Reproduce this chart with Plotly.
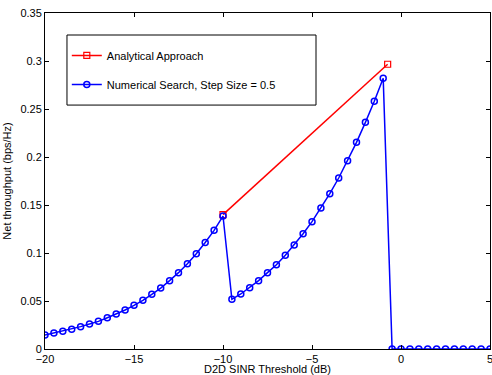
import plotly.graph_objects as go

# Numerical search, step size 0.5
x_num = [-20 + 0.5 * i for i in range(51)]
y_num = [0.0146, 0.0167, 0.0184, 0.0205, 0.0233, 0.0260, 0.0288, 0.0326, 0.0365, 0.0406,
         0.0455, 0.0507, 0.0570, 0.0635, 0.0712, 0.0795, 0.0889, 0.0993, 0.1110, 0.1236,
         0.1385,
         0.0517, 0.0573, 0.0639, 0.0712, 0.0795, 0.0878, 0.0976, 0.1083, 0.1201, 0.1326,
         0.1469, 0.1618, 0.1781, 0.1962, 0.2153, 0.2361, 0.2580, 0.2820,
         0, 0, 0, 0, 0, 0, 0, 0, 0, 0, 0, 0]

# Analytical approach
x_ana = [-10, -0.75]
y_ana = [0.140, 0.2966]

x_ticks = [-20, -15, -10, -5, 0, 5]
y_ticks = [0, 0.05, 0.1, 0.15, 0.2, 0.25, 0.3, 0.35]

FONT = "Liberation Sans, Arial, Helvetica, sans-serif"

fig = go.Figure()
fig.add_trace(go.Scatter(
    x=x_ana, y=y_ana, mode="lines+markers", name="Analytical Approach",
    line=dict(color="#ff0000", width=1.5),
    marker=dict(symbol="square-open", size=6, color="#ff0000", line=dict(width=1.2)),
    legendgroup="a"))
fig.add_trace(go.Scatter(
    x=x_num, y=y_num, mode="lines+markers",
    name="Numerical Search, Step Size = 0.5",
    line=dict(color="#0000ff", width=1.5),
    marker=dict(symbol="circle-open", size=6, color="#0000ff", line=dict(width=1.5)),
    legendgroup="b"))

axis_common = dict(
    showline=True, linecolor="black", linewidth=1, mirror="ticks",
    ticks="inside", ticklen=4, tickcolor="black", showgrid=False, zeroline=False,
    ticklabeloverflow="allow", automargin=False,
    tickfont=dict(family=FONT, size=11, color="black"),
)

fig.update_layout(
    width=492, height=375,
    margin=dict(l=45, r=2, t=13, b=26),
    paper_bgcolor="white", plot_bgcolor="white",
    font=dict(family=FONT, size=11, color="black"),
    showlegend=True,
    legend=dict(
        x=0.049, y=0.917, xanchor="left", yanchor="top",
        bgcolor="rgba(0,0,0,0)", borderwidth=0,
        font=dict(family=FONT, size=11, color="black"),
        traceorder="grouped", tracegroupgap=10, itemwidth=30,
    ),
    shapes=[dict(type="rect", xref="paper", yref="paper",
                 x0=0.0494, x1=0.609, y0=0.726, y1=0.9345,
                 line=dict(color="black", width=1), fillcolor="white", layer="below")],
    xaxis=dict(range=[-20, 5], tickvals=x_ticks,
               title=dict(text="D2D SINR Threshold (dB)", standoff=5,
                          font=dict(family=FONT, size=11, color="black")),
               **axis_common),
    yaxis=dict(range=[0, 0.35], tickvals=y_ticks,
               title=dict(text="Net throughput (bps/Hz)", standoff=6,
                          font=dict(family=FONT, size=11, color="black")),
               **axis_common),
)

fig.write_html("out.html")
